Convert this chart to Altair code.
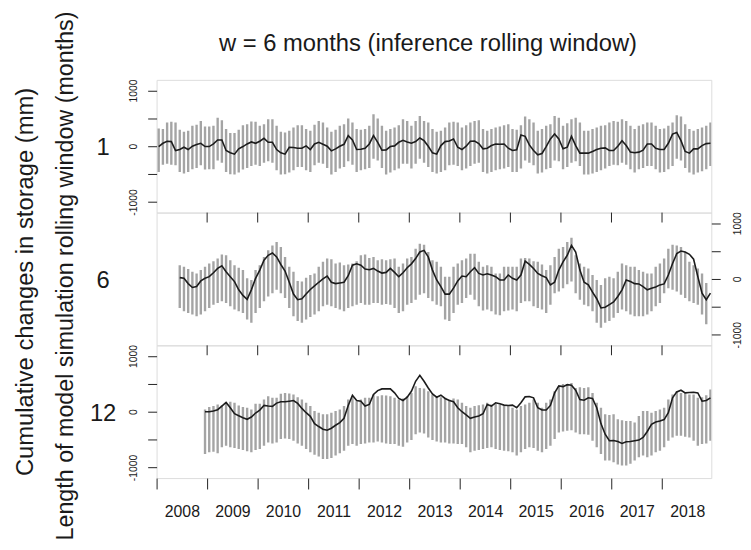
import altair as alt
import pandas as pd

# ---------------- data ----------------
years = list(range(2008, 2019))
title_text = "w = 6 months (inference rolling window)"
ylab_outer = "Cumulative changes in storage (mm)"
ylab_inner = "Length of model simulation rolling window (months)"
window_labels = ["1", "6", "12"]

# month index 0 = Jan 2008
p1_start = 0
p1_mid = [
    -6, 53, 89, 83, -77, -59, -18, -59, 0, 30,
    53, -6, -6, 41, 112, 112, -77, -118, -142, -47,
    -6, 41, 77, 53, 89, 142, 71, 71, -59, -118,
    -142, -18, -24, -35, -35, 6, -59, 41, 71, 35,
    0, -83, -47, 0, 35, 189, 112, -59, -53, -35,
    41, 189, 71, -71, -65, -6, 6, 71, 106, 77,
    53, 83, 148, 100, 0, -118, -142, 12, 83, 94,
    130, -18, -59, 0, 89, 94, 47, -47, -35, 12,
    41, 35, 41, -35, -77, -65, 201, 177, 24, -77,
    -153, -130, -6, 130, 218, 130, -47, -18, 177, 12,
    -124, -124, -124, -94, -59, -35, -30, -77, -77, 0,
    100, 12, -106, -118, -106, -71, 41, 41, -35, -59,
    -59, 53, 218, 248, 100, -94, -124, -47, -47, 12,
    47, 53]
p1_hi = [
    319, 307, 425, 437, 425, 295, 260, 277, 366, 384,
    454, 354, 354, 366, 513, 466, 307, 236, 236, 295,
    378, 395, 443, 437, 366, 395, 484, 484, 366, 260,
    248, 277, 336, 378, 378, 307, 277, 384, 454, 425,
    336, 260, 295, 366, 395, 496, 425, 307, 295, 307,
    366, 572, 496, 366, 277, 307, 336, 378, 484, 454,
    366, 454, 543, 454, 425, 307, 260, 277, 336, 425,
    437, 425, 336, 378, 425, 454, 466, 307, 277, 307,
    336, 354, 378, 395, 307, 295, 378, 531, 484, 425,
    277, 307, 366, 395, 543, 513, 366, 413, 484, 513,
    425, 277, 277, 307, 336, 366, 378, 425, 454, 437,
    484, 454, 366, 307, 366, 395, 425, 425, 366, 307,
    319, 366, 425, 555, 531, 395, 307, 277, 307, 336,
    366, 425]
p1_lo = [
    -460, -330, -313, -330, -342, -460, -490, -460, -413, -389,
    -342, -419, -413, -413, -254, -295, -460, -501, -507, -472,
    -419, -389, -354, -330, -354, -295, -271, -295, -431, -507,
    -501, -472, -431, -372, -372, -431, -460, -342, -295, -313,
    -389, -507, -460, -401, -372, -271, -330, -460, -431, -413,
    -389, -224, -254, -389, -507, -472, -431, -401, -313, -313,
    -401, -313, -224, -295, -372, -460, -490, -460, -431, -342,
    -330, -354, -431, -401, -354, -313, -295, -460, -490, -460,
    -431, -413, -401, -372, -460, -460, -401, -254, -295, -342,
    -490, -472, -413, -389, -254, -271, -413, -372, -295, -271,
    -354, -507, -507, -490, -460, -431, -401, -354, -330, -342,
    -295, -330, -413, -472, -413, -389, -354, -354, -413, -472,
    -460, -413, -354, -224, -254, -389, -472, -507, -472, -448,
    -413, -354]

p2_start = 5
p2_mid = [
    24, 12, -83, -153, -136, -35, 12, 41, 112, 189,
    236, 130, 41, -47, -195, -295, -366, -195, 12, 159,
    336, 425, 466, 395, 260, 142, -59, -271, -372, -354,
    -271, -189, -124, -59, 0, 53, -59, -83, -71, -59,
    59, 248, 271, 248, 177, 165, 189, 142, 106, 118,
    189, 118, 41, 112, 201, 271, 366, 484, 513, 395,
    159, -18, -136, -271, -271, -165, -35, 53, 41, 130,
    201, 100, 71, 94, 71, 41, -18, -18, 71, 12,
    -18, 71, 319, 260, 189, 100, 59, 24, -106, -59,
    159, 307, 425, 602, 484, 159, -59, -106, -236, -354,
    -519, -507, -460, -413, -313, -195, -18, -47, -83, -89,
    -136, -195, -165, -142, -106, -89, 71, 277, 454, 502,
    484, 443, 354, 41, -254, -372, -254]
p2_hi = [
    248, 218, 177, 130, 100, 159, 218, 277, 319, 366,
    437, 425, 336, 248, 201, 159, 12, -18, 159, 248,
    395, 513, 602, 661, 572, 395, 218, 130, -35, -47,
    24, 71, 100, 218, 307, 366, 354, 277, 295, 248,
    260, 277, 319, 425, 437, 378, 395, 336, 354, 336,
    354, 366, 218, 277, 366, 395, 543, 631, 614, 484,
    336, 307, 218, 41, 41, 218, 277, 336, 366, 454,
    454, 307, 218, 248, 218, 100, 100, 218, 218, 218,
    218, 366, 378, 366, 319, 307, 260, 159, 248, 395,
    543, 572, 661, 738, 425, 277, 218, 189, 71, -18,
    -106, 12, 41, 12, 130, 277, 248, 218, 218, 159,
    130, 100, 100, 218, 277, 366, 543, 614, 602, 572,
    484, 307, 248, 189, 100, -71]
p2_lo = [
    -519, -578, -608, -637, -667, -637, -578, -519, -460, -431,
    -401, -431, -490, -549, -578, -608, -726, -785, -608, -519,
    -401, -313, -254, -195, -254, -342, -519, -667, -755, -785,
    -726, -684, -637, -578, -490, -460, -490, -519, -549, -578,
    -519, -490, -460, -431, -460, -460, -431, -431, -460, -448,
    -460, -519, -608, -578, -460, -431, -372, -283, -254, -342,
    -401, -460, -490, -726, -755, -608, -460, -431, -342, -283,
    -372, -490, -566, -549, -578, -637, -649, -578, -566, -549,
    -578, -431, -401, -401, -490, -519, -549, -608, -460, -254,
    -224, -165, -94, -47, -254, -372, -460, -490, -578, -785,
    -873, -785, -755, -696, -608, -549, -578, -637, -667, -667,
    -667, -637, -578, -490, -431, -254, -165, -195, -224, -283,
    -342, -401, -431, -460, -637, -814]

p3_start = 11
p3_mid = [
    0, 0, 12, 36, 101, 166, 71, -36, -71, -107,
    -136, -95, -24, 30, 112, 101, 95, 154, 178, 178,
    189, 201, 148, 59, -18, -83, -213, -266, -314, -331,
    -296, -243, -195, -118, 112, 296, 201, 189, 101, 130,
    308, 379, 409, 409, 409, 338, 237, 201, 260, 367,
    545, 651, 545, 426, 320, 260, 296, 237, 201, 178,
    71, 0, -59, -118, -95, -77, -36, 130, 101, 160,
    142, 118, 112, 118, 71, 160, 266, 272, 249, 71,
    30, 30, 112, 337, 462, 450, 485, 473, 385, 219,
    207, 249, 237, 71, -213, -403, -521, -515, -533, -568,
    -539, -533, -521, -509, -462, -355, -225, -184, -166, -142,
    -18, 249, 355, 385, 337, 343, 349, 337, 189, 201, 249]
p3_hi = [
    41, 83, 101, 130, 118, 160, 178, 160, 112, 83,
    71, 41, 142, 142, 219, 278, 249, 249, 320, 337,
    326, 308, 260, 219, 160, 101, 12, -18, -47, -47,
    -18, 12, 41, 101, 219, 278, 189, 219, 249, 249,
    308, 278, 296, 290, 278, 249, 219, 237, 278, 337,
    456, 426, 414, 367, 308, 278, 260, 249, 219, 237,
    219, 160, 101, 71, 101, 118, 130, 160, 130, 142,
    130, 118, 101, 71, 41, 101, 130, 160, 219, 160,
    71, 160, 219, 367, 456, 497, 497, 515, 426, 438,
    426, 438, 337, 160, 71, -47, -59, -47, -136, -154,
    -166, -166, -195, -77, 12, 12, -18, 12, 41, 71,
    219, 308, 367, 337, 337, 308, 308, 249, 260, 296, 397]
p3_lo = [
    -758, -728, -716, -746, -639, -610, -639, -651, -669, -687,
    -710, -728, -687, -669, -610, -551, -568, -551, -491, -480,
    -491, -521, -568, -610, -669, -728, -770, -805, -847, -847,
    -829, -787, -746, -699, -610, -580, -610, -580, -568, -551,
    -551, -533, -551, -568, -580, -580, -610, -628, -551, -509,
    -403, -373, -391, -462, -509, -533, -551, -551, -568, -568,
    -580, -580, -639, -728, -699, -687, -669, -651, -639, -669,
    -687, -699, -710, -728, -787, -728, -669, -639, -651, -699,
    -728, -669, -610, -491, -373, -355, -343, -332, -373, -403,
    -403, -414, -521, -639, -758, -876, -876, -906, -947, -965,
    -965, -935, -876, -817, -787, -817, -787, -728, -699, -639,
    -521, -462, -432, -432, -450, -462, -521, -610, -580, -568, -521]

# ---------------- layout / style ----------------
W, H = 560, 134
FONT = "Liberation Sans"
BAR_COLOR = "#a4a4a4"
LINE_COLOR = "#1c1c1c"
TXT = "#1a1a1a"

xs = alt.Scale(domain=[-0.5, 131.2], nice=False, zero=False)
ys = alt.Scale(domain=[-1190, 1190], nice=False, zero=False)

year_bounds = [12 * (y - years[0]) - 0.5 for y in years]
px_per_month = W / (131.2 + 0.5)

bottom_x_axis = alt.Axis(
    values=year_bounds, orient="bottom", grid=False, domain=False,
    tickSize=11, tickColor="#222", tickWidth=1,
    labelExpr="'' + (%d + round((datum.value + 0.5) / 12))" % years[0],
    labelOffset=6 * px_per_month, labelFlush=False, labelOverlap=False,
    labelFont=FONT, labelFontSize=16, labelColor=TXT,
    labelPadding=15, labelBaseline="top", title=None)


def y_axis(orient):
    return alt.Axis(
        orient=orient, values=[-1000, -500, 0, 500, 1000], grid=False, domain=False,
        tickSize=9, tickColor="#222", tickWidth=1,
        labelExpr="abs(datum.value) == 500 ? '' : '' + datum.value",
        labelAngle=270, labelAlign="center", labelBaseline="alphabetic",
        labelPadding=11 if orient == "left" else 20,
        labelFont=FONT, labelFontSize=10.5, labelColor=TXT,
        labelOverlap=False, labelFlush=False, title=None)


def panel(start, mid, lo, hi, label, y_orient, x_axis, inner_ticks, extra=()):
    bars = pd.DataFrame({"m": [start + k for k in range(len(lo))], "lo": lo, "hi": hi})
    line = pd.DataFrame({"m": [start + k for k in range(len(mid))], "v": mid})
    yax = y_axis(y_orient)
    layers = [
        alt.Chart(bars).mark_rule(color=BAR_COLOR, strokeWidth=2.4, clip=True).encode(
            x=alt.X("m:Q", scale=xs, axis=x_axis),
            y=alt.Y("lo:Q", scale=ys, axis=yax),
            y2="hi:Q"),
        alt.Chart(line).mark_line(color=LINE_COLOR, strokeWidth=1.6, clip=True).encode(
            x=alt.X("m:Q", scale=xs, axis=x_axis),
            y=alt.Y("v:Q", scale=ys, axis=yax)),
        alt.Chart(pd.DataFrame({"t": [label]})).mark_text(
            font=FONT, fontSize=24, color=TXT, align="center", baseline="middle").encode(
            text="t:N", x=alt.value(-54), y=alt.value(69)),
    ]
    if inner_ticks:
        tk = pd.DataFrame({"m": year_bounds[1:]})
        layers.append(alt.Chart(tk).mark_rule(color="#222", strokeWidth=1).encode(
            x=alt.X("m:Q", scale=xs, axis=x_axis), y=alt.value(0), y2=alt.value(10)))
    layers.extend(extra)
    return alt.layer(*layers).properties(width=W, height=H)


texts = [
    alt.Chart(pd.DataFrame({"t": [title_text]})).mark_text(
        font=FONT, fontSize=24, color=TXT, align="center", baseline="middle").encode(
        text="t:N", x=alt.value(W / 2 - 6), y=alt.value(-36)),
    alt.Chart(pd.DataFrame({"t": [ylab_outer]})).mark_text(
        font=FONT, fontSize=24, color=TXT, align="center", baseline="middle", angle=270).encode(
        text="t:N", x=alt.value(-132), y=alt.value(204)),
    alt.Chart(pd.DataFrame({"t": [ylab_inner]})).mark_text(
        font=FONT, fontSize=23.5, color=TXT, align="center", baseline="middle", angle=270).encode(
        text="t:N", x=alt.value(-91), y=alt.value(198)),
]

top = panel(p1_start, p1_mid, p1_lo, p1_hi, window_labels[0], "left", None, False, texts)
mid = panel(p2_start, p2_mid, p2_lo, p2_hi, window_labels[1], "right", None, True)
bot = panel(p3_start, p3_mid, p3_lo, p3_hi, window_labels[2], "left", bottom_x_axis, True)

chart = alt.vconcat(top, mid, bot, spacing=0, bounds="flush").properties(
    padding={"left": 5, "top": 0, "right": 0, "bottom": 0}
).configure_view(stroke="#333", strokeWidth=1).configure(background="white")

chart.save("out.html", embed_options={"renderer": "svg", "actions": False})
